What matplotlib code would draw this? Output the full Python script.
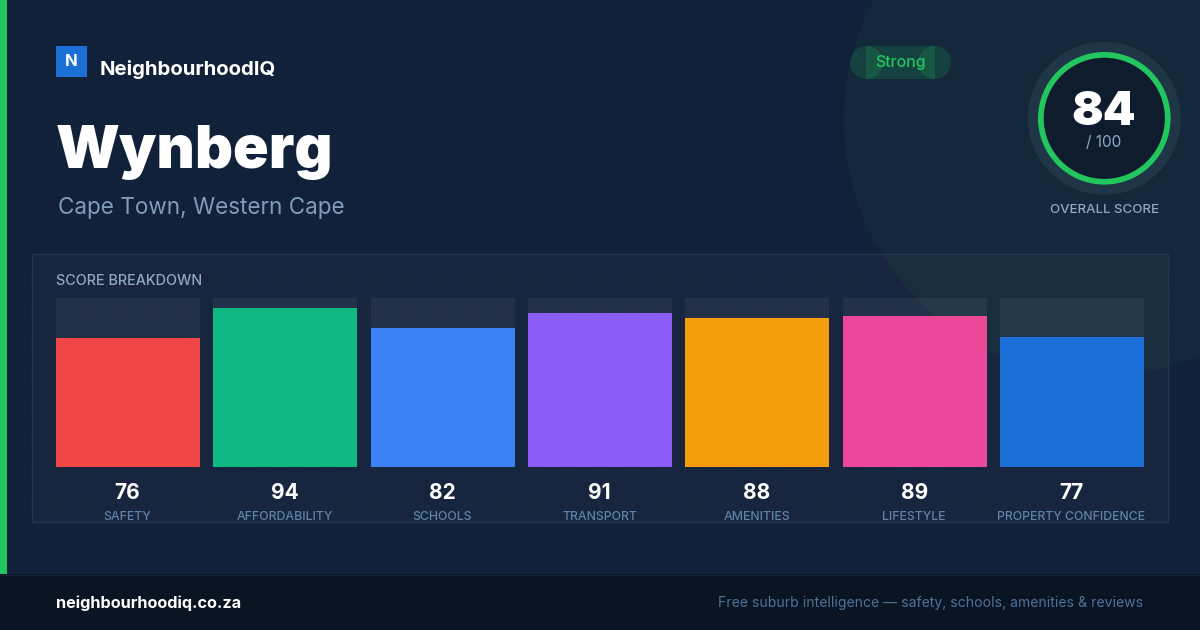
import numpy as np
import matplotlib
matplotlib.use("Agg")
import matplotlib.pyplot as plt
from matplotlib.patches import Rectangle, Circle

brand = "NeighbourhoodIQ"
suburb = "Wynberg"
location = "Cape Town, Western Cape"
badge = "Strong"
overall = 84
categories = ["SAFETY", "AFFORDABILITY", "SCHOOLS", "TRANSPORT", "AMENITIES", "LIFESTYLE", "PROPERTY CONFIDENCE"]
scores = [76, 94, 82, 91, 88, 89, 77]
colors = ["#f24646", "#10b981", "#3b82f6", "#8b5cf6", "#f59e0b", "#ec4899", "#1d6fd8"]

plt.rcParams["font.family"] = ["Inter", "Liberation Sans", "DejaVu Sans"]
W, H = 1200, 630
fig = plt.figure(figsize=(W / 100, H / 100), dpi=100, facecolor="#12213a")
bg = fig.add_axes([0, 0, 1, 1])
bg.set_xlim(0, W); bg.set_ylim(H, 0); bg.axis("off")


def label(x, y, s, color, size, weight="normal", ha="left", z=8):
    bg.text(x, y, s, color=color, fontsize=size, fontweight=weight, ha=ha, va="baseline", zorder=z)


bg.add_patch(Rectangle((0, 0), W, H, fc="#12213a", ec="none", zorder=0))
bg.add_patch(Circle((1100, 120), 256, fc="#13293b", ec="none", zorder=1))
gx, gy = np.meshgrid(np.arange(24, W, 32), np.arange(24, 575, 32))
bg.scatter(gx.ravel(), gy.ravel(), s=1.5, marker="s", c="#ffffff", alpha=0.03, linewidths=0, zorder=2)

# accent and footer
bg.add_patch(Rectangle((0, 0), 7, 574, fc="#22c55e", ec="none", zorder=3))
bg.add_patch(Rectangle((0, 574), W, 56, fc="#0a1422", ec="none", zorder=3))
bg.plot([0, W], [574.5, 574.5], color="#142033", lw=1, zorder=4)

# panel
bg.add_patch(Rectangle((32, 254), 1136, 268, fc="#ffffff", alpha=0.024, ec="none", zorder=3))
bg.add_patch(Rectangle((32, 254), 1136, 268, fc="none", ec="#25344d", lw=1, zorder=3))

# logo
bg.add_patch(Rectangle((56, 46), 31, 31, fc="#1d6fd8", ec="none", zorder=5))
label(71.5, 66, "N", "white", 12, "bold", "center")
label(100, 75, brand, "white", 14.65, "bold")
label(55.5, 168, suburb, "white", 42.5, "black")
label(58, 214, location, "#7f9cbc", 16.2)

# badge: three translucent layers, brighter where they overlap
badge_green = "#22c55e"
bg.add_patch(Rectangle((866, 46), 69, 33, fc=badge_green, alpha=0.16, ec="none", zorder=5))
bg.add_patch(Circle((866.5, 62.5), 16.5, fc=badge_green, alpha=0.16, ec="none", zorder=5))
bg.add_patch(Circle((934.5, 62.5), 16.5, fc=badge_green, alpha=0.16, ec="none", zorder=5))
label(900.5, 67, badge, badge_green, 11.4, "medium", "center")

# ring
bg.add_patch(Circle((1104.3, 118.3), 76.5, fc="#1e3646", ec="none", zorder=5))
bg.add_patch(Circle((1104.3, 118.3), 66.3, fc="#22c55e", ec="none", zorder=6))
bg.add_patch(Circle((1104.3, 118.3), 60.6, fc="#0f1c2e", ec="none", zorder=7))
label(1104, 125, str(overall), "white", 33.7, "black", "center")
label(1104, 147, "/ 100", "#8fa8c4", 11, "normal", "center")
label(1104.5, 213, "OVERALL SCORE", "#8fa8c4", 9.55, "medium", "center")

label(56, 285, "SCORE BREAKDOWN", "#8fa8c4", 10.35, "medium")

# bars, on their own axes with a 0-100 scale
pitch, bw = 157.33, 144
ax = fig.add_axes([56 / W, 1 - 467 / H, (1144 - 56) / W, 169.4 / H], facecolor="none")
half = bw / pitch / 2
ax.set_xlim(-half, 6 + half); ax.set_ylim(0, 100); ax.axis("off")
x = np.arange(len(scores))
ax.bar(x, [100] * len(scores), width=bw / pitch, color="#ffffff", alpha=0.055, linewidth=0)
ax.bar(x, scores, width=bw / pitch, color=colors, linewidth=0)

for i, (c, s) in enumerate(zip(categories, scores)):
    cx = 56 + bw / 2 + i * pitch
    label(cx - 0.5, 499, str(s), "white", 15, "bold", "center")
    label(cx - 0.5, 520, c, "#5f82a8", 8.85, "medium", "center")

# footer text
label(56, 608, "neighbourhoodiq.co.za", "white", 11.7, "bold")
label(1143.5, 607, "Free suburb intelligence \u2014 safety, schools, amenities & reviews", "#4f7299", 10.08, "normal", "right")

fig.savefig("out.png", dpi=100, facecolor=fig.get_facecolor())
